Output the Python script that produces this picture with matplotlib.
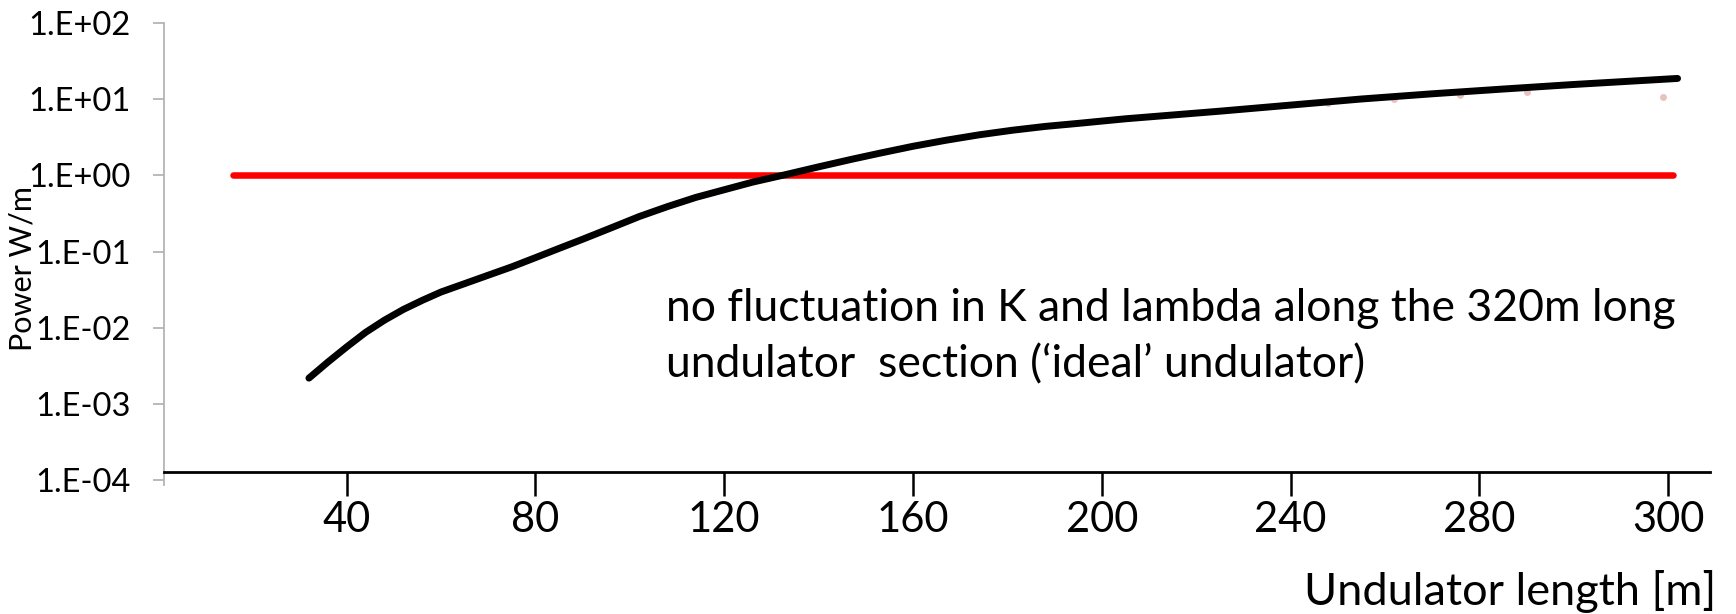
import matplotlib.pyplot as plt
from matplotlib.ticker import NullLocator

plt.rcParams['font.family'] = ['Lato', 'DejaVu Sans']

# power per metre along the undulator (ideal case)
length_m = [32, 36, 40, 44, 48, 52, 56, 60, 65, 70, 75, 80, 85, 90, 96, 102,
            108, 114, 120, 126, 133, 140, 147, 153, 160, 167, 174, 181, 188,
            195, 205, 215, 225, 240, 255, 270, 285, 300, 322]
power_w_per_m = [0.00219, 0.00355, 0.00562, 0.00871, 0.0126, 0.0174, 0.0229,
                 0.0295, 0.0380, 0.0490, 0.0631, 0.0832, 0.110, 0.145, 0.204,
                 0.288, 0.389, 0.513, 0.646, 0.813, 1.02, 1.29, 1.62, 1.95,
                 2.40, 2.88, 3.39, 3.89, 4.37, 4.79, 5.50, 6.17, 6.92, 8.32,
                 10.0, 11.7, 13.5, 15.5, 18.6]

# 1 W/m limit
limit_x = [16, 321]
limit_y = [1.0, 1.0]

# leftover points of an older series under the curve
old_x = [248, 262, 276, 290, 319]
old_y = [8.8, 9.9, 11.2, 12.2, 10.5]

x_ticks = [40, 80, 120, 160, 200, 240, 280, 320]
x_tick_labels = ['40', '80', '120', '160', '200', '240', '280', '300']
y_ticks = [1e-4, 1e-3, 1e-2, 1e-1, 1e0, 1e1, 1e2]
y_tick_labels = ['1.E-04', '1.E-03', '1.E-02', '1.E-01', '1.E+00', '1.E+01', '1.E+02']

fig = plt.figure(figsize=(17.36, 6.14), dpi=100)
ax = fig.add_axes([0.0945, 0.2101, 0.8906, 0.7529])

ax.plot(old_x, old_y, 'o', color='#c0504d', alpha=0.35, markersize=5,
        markeredgewidth=0, zorder=1)
ax.plot(limit_x, limit_y, color='#ff0000', lw=4.7, solid_capstyle='round', zorder=2)
ax.plot(length_m, power_w_per_m, color='black', lw=5, solid_capstyle='round',
        solid_joinstyle='round', zorder=3)

ax.set_yscale('log')
ax.set_ylim(8.7e-5, 100)
ax.set_xlim(1.3, 328.9)

ax.set_yticks(y_ticks)
ax.set_yticklabels(y_tick_labels)
ax.yaxis.set_minor_locator(NullLocator())
ax.set_xticks(x_ticks)
ax.set_xticklabels(x_tick_labels)

for side in ['top', 'right']:
    ax.spines[side].set_visible(False)
ax.spines['left'].set_color('#b4b4b4')
ax.spines['left'].set_linewidth(1.3)
ax.spines['bottom'].set_position(('data', 1.3e-4))
ax.spines['bottom'].set_color('black')
ax.spines['bottom'].set_linewidth(2)

ax.tick_params(axis='y', length=8, width=1.3, color='#b4b4b4', pad=16,
               labelsize=23.5, labelcolor='black')
ax.tick_params(axis='x', length=17, width=1.8, color='black', pad=4,
               labelsize=30, labelcolor='black')

fig.text(0.0127, 0.5635, 'Power W/m', rotation=90, fontsize=22,
         ha='center', va='center')
fig.text(0.9885, 0.014, 'Undulator length [m]', fontsize=32.5,
         ha='right', va='baseline')
fig.text(0.3836, 0.385,
         'no fluctuation in K and lambda along the 320m long\n'
         'undulator  section (\u2018ideal\u2019 undulator)',
         fontsize=32, ha='left', va='baseline', linespacing=1.46)

fig.savefig('out.png', dpi=100)
